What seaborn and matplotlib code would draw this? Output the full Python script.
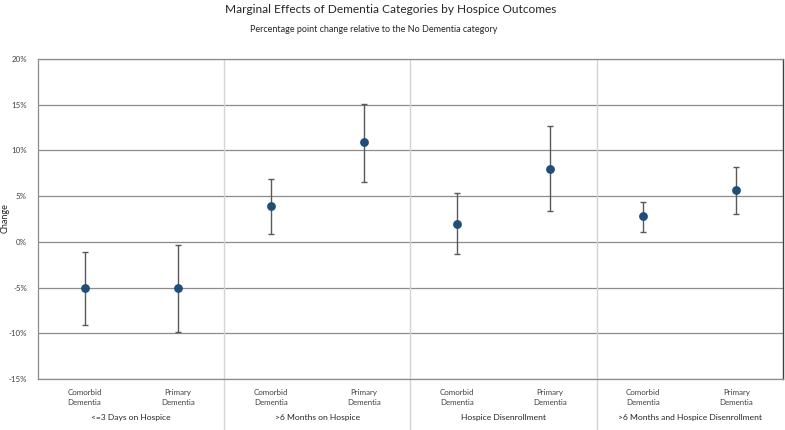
import matplotlib
matplotlib.use("Agg")
import matplotlib.pyplot as plt
from matplotlib import ticker
import pandas as pd
import seaborn as sns

outcomes = ["<=3 Days on Hospice", ">6 Months on Hospice",
            "Hospice Disenrollment", ">6 Months and Hospice Disenrollment"]
categories = ["Comorbid\nDementia", "Primary\nDementia"]
# percentage point change, lower and upper bounds
change = [-5.0, -5.0, 3.9, 10.9, 2.0, 8.0, 2.8, 5.7]
lower = [-9.1, -9.9, 0.9, 6.6, -1.3, 3.4, 1.1, 3.1]
upper = [-1.1, -0.3, 6.9, 15.1, 5.3, 12.7, 4.4, 8.2]
yticks = [-15, -10, -5, 0, 5, 10, 15, 20]

sns.set_theme(style="white")
plt.rcParams['font.family'] = ['Lato', 'DejaVu Sans']

labels = [f"{o}|{c}" for o in outcomes for c in categories]
df = pd.DataFrame({"label": labels, "change": change, "lower": lower, "upper": upper})

fig = plt.figure(figsize=(7.85, 4.30), dpi=100)
ax = fig.add_axes([0.0484, 0.1186, 0.949, 0.744])

for y in yticks:
    ax.axhline(y, color="#8c8c8c", lw=0.9, zorder=0)

ax.errorbar(range(len(df)), df["change"],
            yerr=[df["change"] - df["lower"], df["upper"] - df["change"]],
            fmt="none", ecolor="#595959", elinewidth=1, capsize=2.5, capthick=1, zorder=2)
sns.pointplot(data=df, x="label", y="change", ax=ax, linestyle="none",
              errorbar=None, color="#1F4E79", markersize=4.3, zorder=3)

for sep in [1.5, 3.5, 5.5]:
    ax.axvline(sep, ymin=-0.16, ymax=1, color="#d4d4d4", lw=1, clip_on=False, zorder=0)

ax.set_ylim(-15, 20)
ax.set_xlim(-0.5, len(df) - 0.5)
ax.set_yticks(yticks)
ax.yaxis.set_major_formatter(ticker.FuncFormatter(lambda v, p: f"{v:.0f}%"))
ax.set_xticks(range(len(df)))
ax.set_xticklabels([c for o in outcomes for c in categories], fontsize=5.7,
                   color="#404040", linespacing=1.5)
ax.tick_params(axis="y", labelsize=5.7, labelcolor="#404040", length=0, pad=8)
ax.tick_params(axis="x", length=0, pad=7)
ax.set_xlabel("")
ax.set_ylabel("")
fig.text(5.5 / 785, 1 - 218 / 430, "Change", rotation=90, ha="center", va="center",
         fontsize=6.5, color="#262626")

for s in ["left", "bottom", "top"]:
    ax.spines[s].set_color("#8c8c8c")
    ax.spines[s].set_linewidth(0.9)
ax.spines["right"].set_color("#404040")
ax.spines["right"].set_linewidth(1)

for i, o in enumerate(outcomes):
    ax.text(2 * i + 0.5, -0.12, o, transform=ax.get_xaxis_transform(),
            ha="center", va="center", fontsize=6.1, color="#262626")

fig.text(0.498, 0.978, "Marginal Effects of Dementia Categories by Hospice Outcomes",
         ha="center", va="center", fontsize=8.6, color="#262626")
fig.text(0.476, 0.932, "Percentage point change relative to the No Dementia category",
         ha="center", va="center", fontsize=6.5, color="#262626")

fig.savefig("out.png", dpi=100)
